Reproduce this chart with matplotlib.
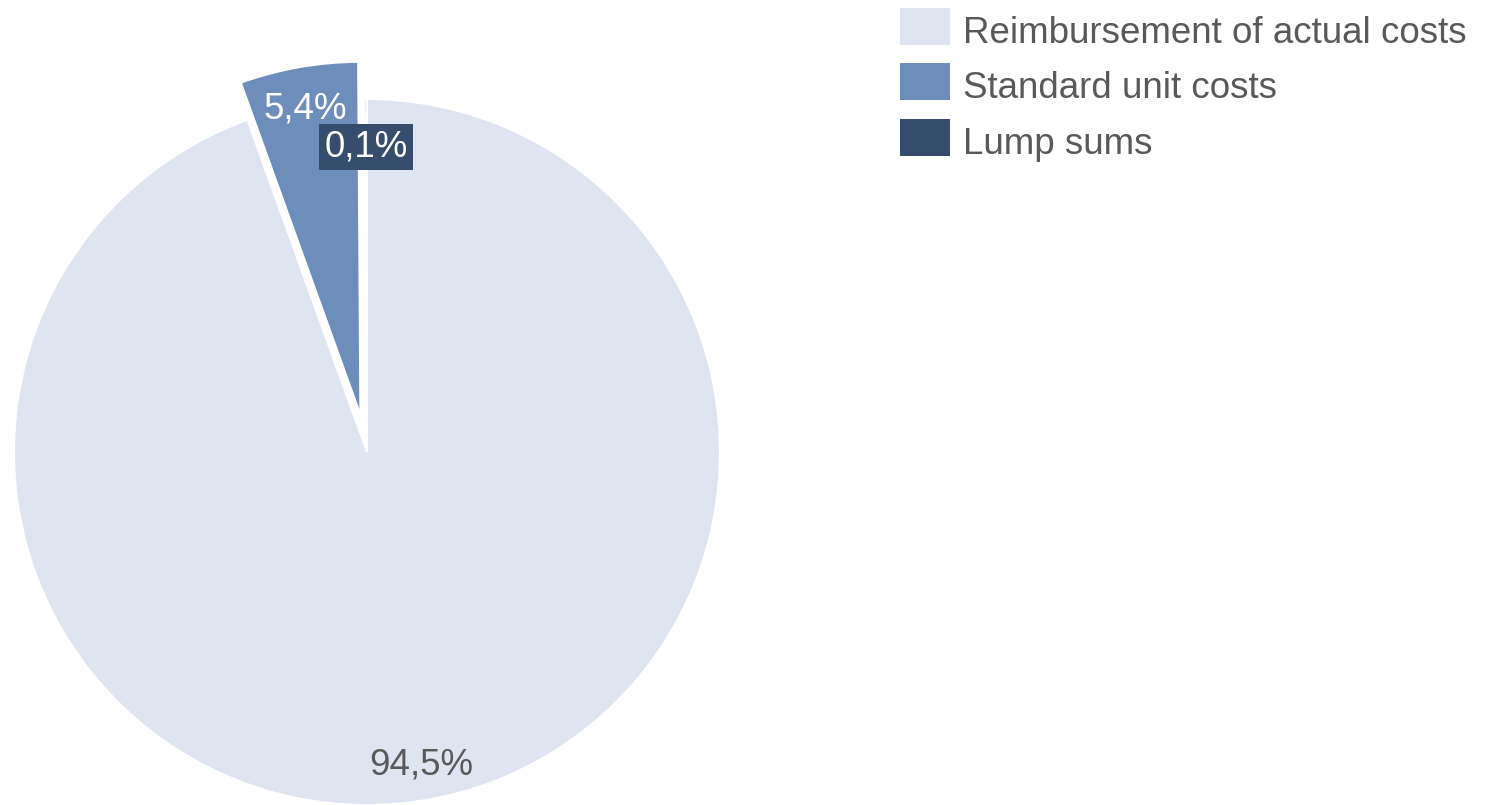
import matplotlib
matplotlib.use("Agg")
import matplotlib.pyplot as plt
import numpy as np
from matplotlib.patches import Rectangle

categories = ["Reimbursement of actual costs", "Standard unit costs", "Lump sums"]
values = [94.5, 5.4, 0.1]
value_labels = ["94,5%", "5,4%", "0,1%"]
colors = ["#DFE5F0", "#6D8EBB", "#364D6E"]
explode_frac = [0.0, 0.107, 0.0]

plt.rcParams['font.family'] = ['Liberation Sans', 'DejaVu Sans']
W, H = 1491, 805
fig = plt.figure(figsize=(W / 100, H / 100), dpi=100)
ax = fig.add_axes([0, 0, 1, 1])

cx, cy, r = 367, H - 452, 353
fs = 26.5
wedges, texts = ax.pie(values, colors=colors,
                       explode=[e * r for e in explode_frac], startangle=90,
                       counterclock=False, center=(cx, cy), radius=r,
                       wedgeprops=dict(edgecolor="white", linewidth=1.5),
                       labels=value_labels, labeldistance=0.89,
                       textprops=dict(fontsize=fs, ha="center",
                                      va="center_baseline"))
text_colors = ["#595959", "white", "white"]
for t, c in zip(texts, text_colors):
    t.set_color(c)

# lump sum label sits a little further in, on a dark box
w = wedges[2]
th = np.deg2rad((w.theta1 + w.theta2) / 2)
texts[2].set_position((w.center[0] + 0.875 * r * np.cos(th),
                       w.center[1] + 0.875 * r * np.sin(th)))
texts[2].set_bbox(dict(boxstyle="square,pad=0.14", facecolor=colors[2],
                       edgecolor="none"))
texts[2].set_zorder(5)

ax.set_xlim(0, W)
ax.set_ylim(0, H)
ax.set_aspect("equal")
ax.axis("off")

# legend
for i, (lab, col) in enumerate(zip(categories, colors)):
    yc = 26.5 + 55.3 * i
    fig.patches.append(Rectangle((900 / W, 1 - (yc + 18.5) / H), 50 / W, 37 / H,
                                 transform=fig.transFigure, facecolor=col,
                                 edgecolor="none"))
    fig.text(963 / W, 1 - (yc + 16.5) / H, lab, fontsize=fs, color="#595959",
             ha="left", va="baseline")

fig.savefig("out.png", dpi=100)
